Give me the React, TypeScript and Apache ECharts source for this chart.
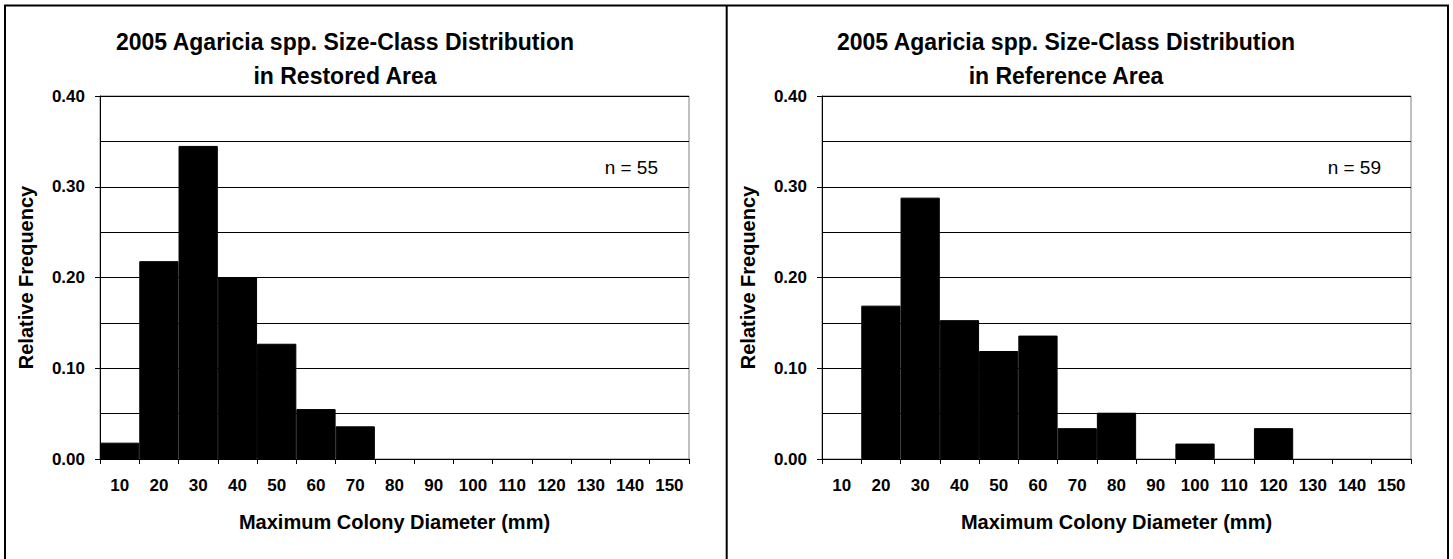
import React, { useEffect, useRef } from 'react';
import * as echarts from 'echarts';

// Size classes (maximum colony diameter, mm)
const categories = ['10', '20', '30', '40', '50', '60', '70', '80', '90', '100', '110', '120', '130', '140', '150'];
// Relative frequency, Restored Area (n = 55)
const restoredFreq = [0.018, 0.218, 0.345, 0.2, 0.127, 0.055, 0.036, 0, 0, 0, 0, 0, 0, 0, 0];
// Relative frequency, Reference Area (n = 59)
const referenceFreq = [0, 0.169, 0.288, 0.153, 0.119, 0.136, 0.034, 0.051, 0, 0.017, 0, 0.034, 0, 0, 0];

const panelTitles = [
  '2005 Agaricia spp. Size-Class Distribution\nin Restored Area',
  '2005 Agaricia spp. Size-Class Distribution\nin Reference Area',
];
const sampleLabels = ['n = 55', 'n = 59'];
const xAxisName = 'Maximum Colony Diameter (mm)';
const yAxisName = 'Relative Frequency';

const FONT = '"Liberation Sans", Arial, Helvetica, sans-serif';

export default function App() {
  const ref = useRef<HTMLDivElement>(null);

  useEffect(() => {
    if (!ref.current) return;
    const chart = echarts.init(ref.current, null, { renderer: 'svg' });

    const grids = [
      { left: 100, top: 96, width: 589, height: 363 },
      { left: 822, top: 96, width: 589, height: 363 },
    ];
    const seriesData = [restoredFreq, referenceFreq];

    const option: any = {
      animation: false,
      backgroundColor: '#fff',
      grid: grids.map((g) => ({
        ...g,
        show: true,
        borderColor: '#808080',
        borderWidth: 1,
        backgroundColor: 'transparent',
      })),
      xAxis: grids.map((_, i) => ({
        type: 'category',
        gridIndex: i,
        data: categories,
        boundaryGap: true,
        axisLine: { show: true, lineStyle: { color: '#000', width: 1 } },
        axisTick: { show: true, length: 5, lineStyle: { color: '#000' } },
        axisLabel: {
          interval: 0,
          color: '#000',
          fontSize: 17,
          fontWeight: 'bold',
          fontFamily: FONT,
          margin: 18,
        },
        splitLine: { show: false },
        name: xAxisName,
        nameLocation: 'middle',
        nameGap: 53,
        nameTextStyle: { color: '#000', fontSize: 20, fontWeight: 'bold', fontFamily: FONT },
      })),
      yAxis: grids.map((_, i) => ({
        type: 'value',
        gridIndex: i,
        min: 0,
        max: 0.4,
        interval: 0.1,
        axisLine: { show: true, lineStyle: { color: '#000', width: 1 } },
        axisTick: { show: true, length: 5, lineStyle: { color: '#000' } },
        axisLabel: {
          color: '#000',
          fontSize: 17,
          fontWeight: 'bold',
          fontFamily: FONT,
          margin: 15,
          formatter: (v: number) => v.toFixed(2),
        },
        splitLine: { show: true, lineStyle: { color: '#000', width: 1 } },
        minorTick: { show: false, splitNumber: 2 },
        minorSplitLine: { show: true, lineStyle: { color: '#000', width: 1 } },
        name: yAxisName,
        nameLocation: 'middle',
        nameGap: 64,
        nameRotate: 90,
        nameTextStyle: { color: '#000', fontSize: 20, fontWeight: 'bold', fontFamily: FONT },
      })),
      series: seriesData.map((d, i) => ({
        type: 'bar',
        xAxisIndex: i,
        yAxisIndex: i,
        // empty size classes draw no bar (avoid a border line on the axis)
        data: d.map((v) => (v === 0 ? '-' : v)),
        barCategoryGap: '0%',
        itemStyle: { color: '#000', borderColor: '#000', borderWidth: 1 },
        silent: true,
      })),
      graphic: [
        {
          type: 'rect',
          shape: { x: 5, y: 5.5, width: 1443, height: 600 },
          style: { fill: 'none', stroke: '#000', lineWidth: 2 },
          silent: true,
        },
        {
          type: 'line',
          shape: { x1: 726.7, y1: 5, x2: 726.7, y2: 600 },
          style: { stroke: '#000', lineWidth: 2 },
          silent: true,
        },
        ...panelTitles.map((t, i) => ({
          type: 'text',
          x: i === 0 ? 345 : 1066,
          y: 25,
          style: {
            text: t,
            fill: '#000',
            fontSize: 23,
            fontWeight: 'bold',
            fontFamily: FONT,
            align: 'center',
            verticalAlign: 'top',
            lineHeight: 34,
          },
          silent: true,
        })),
        ...sampleLabels.map((t, i) => ({
          type: 'text',
          x: i === 0 ? 658 : 1381,
          y: 167.5,
          style: {
            text: t,
            fill: '#000',
            fontSize: 19,
            fontFamily: FONT,
            align: 'right',
            verticalAlign: 'middle',
          },
          silent: true,
        })),
      ],
    };

    chart.setOption(option);
    return () => chart.dispose();
  }, []);

  return (
    <div
      ref={ref}
      style={{ position: 'absolute', left: 0, top: 0, width: 1453, height: 559, background: '#fff' }}
    />
  );
}
